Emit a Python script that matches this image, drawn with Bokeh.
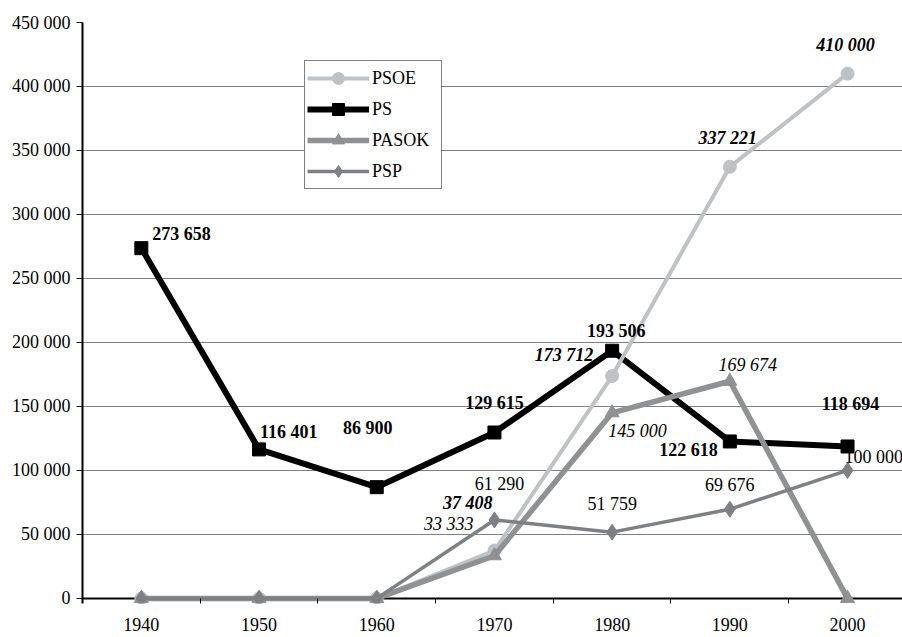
from bokeh.plotting import figure
from bokeh.models import (ColumnDataSource, Range1d, FixedTicker, Legend,
                          LegendItem, Span)
from bokeh.core.properties import value
from bokeh.embed import file_html
from bokeh.resources import INLINE

# ---------------- data ----------------
years = [1940, 1950, 1960, 1970, 1980, 1990, 2000]
x_tick_labels = ["1940", "1950", "1960", "1970", "1980", "1990", "2000"]
x_minor_ticks = [1945, 1955, 1965, 1975, 1985, 1995]

psoe = [0, 0, 0, 37408, 173712, 337221, 410000]
ps = [273658, 116401, 86900, 129615, 193506, 122618, 118694]
pasok = [0, 0, 0, 33333, 145000, 169674, 0]
psp = [0, 0, 0, 61290, 51759, 69676, 100000]

y_ticks = [0, 50000, 100000, 150000, 200000, 250000, 300000, 350000, 400000, 450000]
y_tick_labels = ["0", "50 000", "100 000", "150 000", "200 000", "250 000",
                 "300 000", "350 000", "400 000", "450 000"]

# which points carry a value label
psoe_labeled = [1970, 1980, 1990, 2000]
ps_labeled = [1940, 1950, 1960, 1970, 1980, 1990, 2000]
pasok_labeled = [1970, 1980, 1990]
psp_labeled = [1970, 1980, 1990, 2000]

FONT = "Liberation Serif"

# ---------------- styles ----------------
C_PSOE = "#BEC2C5"
C_PS = "#000000"
C_PASOK = "#8F9193"
C_PSP = "#7E8083"

p = figure(width=902, height=637, output_backend="svg", toolbar_location=None,
           x_range=Range1d(1935, 2004.67), y_range=Range1d(-4000, 450000),
           min_border_left=82, min_border_right=0, min_border_top=22,
           min_border_bottom=34)
p.outline_line_color = None
p.background_fill_color = "white"
p.border_fill_color = "white"

# grid
p.xgrid.visible = False
p.ygrid.ticker = FixedTicker(ticks=y_ticks, minor_ticks=[])
p.ygrid.grid_line_color = "#7F7F7F"
p.ygrid.grid_line_width = 1

# zero baseline (x axis line)
p.add_layout(Span(location=0, dimension="width", line_color="black",
                  line_width=2, level="underlay"))

# x axis
p.xaxis.ticker = FixedTicker(ticks=years, minor_ticks=x_minor_ticks)
p.xaxis.major_label_overrides = {y: s for y, s in zip(years, x_tick_labels)}
p.xaxis.major_tick_out = 0
p.xaxis.major_tick_in = 0
p.xaxis.minor_tick_out = 0
p.xaxis.minor_tick_in = 5
p.xaxis.minor_tick_line_color = "black"
p.xaxis.minor_tick_line_width = 1
p.xaxis.axis_line_color = None
p.xaxis.major_label_standoff = 14
p.xaxis.major_label_text_font = FONT
p.xaxis.major_label_text_font_size = "18px"
p.xaxis.major_label_text_color = "black"

# y axis
p.yaxis.ticker = FixedTicker(ticks=y_ticks, minor_ticks=[])
p.yaxis.major_label_overrides = {t: s for t, s in zip(y_ticks, y_tick_labels)}
p.yaxis.major_tick_out = 6
p.yaxis.major_tick_in = 0
p.yaxis.major_tick_line_color = "black"
p.yaxis.minor_tick_out = 0
p.yaxis.minor_tick_in = 0
p.yaxis.axis_line_color = "black"
p.yaxis.axis_line_width = 2
p.yaxis.major_label_standoff = 6
p.yaxis.major_label_text_font = FONT
p.yaxis.major_label_text_font_size = "18px"
p.yaxis.major_label_text_color = "black"

# series
src = ColumnDataSource(dict(x=years, psoe=psoe, ps=ps, pasok=pasok, psp=psp))

l_ps = p.line("x", "ps", source=src, line_color=C_PS, line_width=6)
s_ps = p.scatter("x", "ps", source=src, marker="square", size=13,
                 fill_color=C_PS, line_color=C_PS)
l_psoe = p.line("x", "psoe", source=src, line_color=C_PSOE, line_width=4)
s_psoe = p.scatter("x", "psoe", source=src, marker="circle", size=13,
                   fill_color=C_PSOE, line_color=C_PSOE)
l_pasok = p.line("x", "pasok", source=src, line_color=C_PASOK, line_width=5.5)
s_pasok = p.scatter("x", "pasok", source=src, marker="triangle", size=14,
                    fill_color=C_PASOK, line_color=C_PASOK)
l_psp = p.line("x", "psp", source=src, line_color=C_PSP, line_width=3.5)
s_psp = p.scatter("x", "psp", source=src, marker="diamond", size=16,
                  fill_color=C_PSP, line_color=C_PSP)


def fmt(v):
    return f"{v:,}".replace(",", " ")


def add_labels(vals, labeled, aligns, dxs, dys, style):
    idx = [years.index(y) for y in labeled]
    lsrc = ColumnDataSource(dict(
        x=[years[i] for i in idx], y=[vals[i] for i in idx],
        t=[fmt(vals[i]) for i in idx], align=aligns, dx=dxs, dy=dys))
    p.text(x="x", y="y", text="t", source=lsrc, text_align="align",
           x_offset="dx", y_offset="dy", text_baseline="middle",
           text_font=value(FONT), text_font_size="18px",
           text_font_style=style, text_color="black")


add_labels(ps, ps_labeled,
           ["left", "left", "center", "center", "center", "right", "center"],
           [11, 1, -9, 0, 4, -12, 3],
           [-14, -17, -59, -30, -20, 9, -42], "bold")
add_labels(psoe, psoe_labeled,
           ["right", "right", "center", "center"],
           [-2, -19, -2, -2],
           [-48, -21, -29, -29], "bold italic")
add_labels(pasok, pasok_labeled,
           ["right", "left", "center"],
           [-21, -4, 18],
           [-32, 18, -16], "italic")
add_labels(psp, psp_labeled,
           ["center", "center", "center", "left"],
           [5, 0, 0, -3],
           [-36, -28, -24, -13], "normal")

legend = Legend(items=[
    LegendItem(label="PSOE", renderers=[l_psoe, s_psoe]),
    LegendItem(label="PS", renderers=[l_ps, s_ps]),
    LegendItem(label="PASOK", renderers=[l_pasok, s_pasok]),
    LegendItem(label="PSP", renderers=[l_psp, s_psp]),
], location=(222, 414))
legend.border_line_color = "black"
legend.border_line_width = 1
legend.background_fill_color = "white"
legend.background_fill_alpha = 1
legend.label_text_font = FONT
legend.label_text_font_size = "18px"
legend.label_text_color = "black"
legend.padding = 2
legend.spacing = 1
legend.margin = 0
legend.glyph_width = 62
legend.glyph_height = 30
legend.label_height = 30
legend.label_width = 67
legend.label_standoff = 3
p.add_layout(legend)

open("out.html", "w").write(file_html(p, INLINE))
